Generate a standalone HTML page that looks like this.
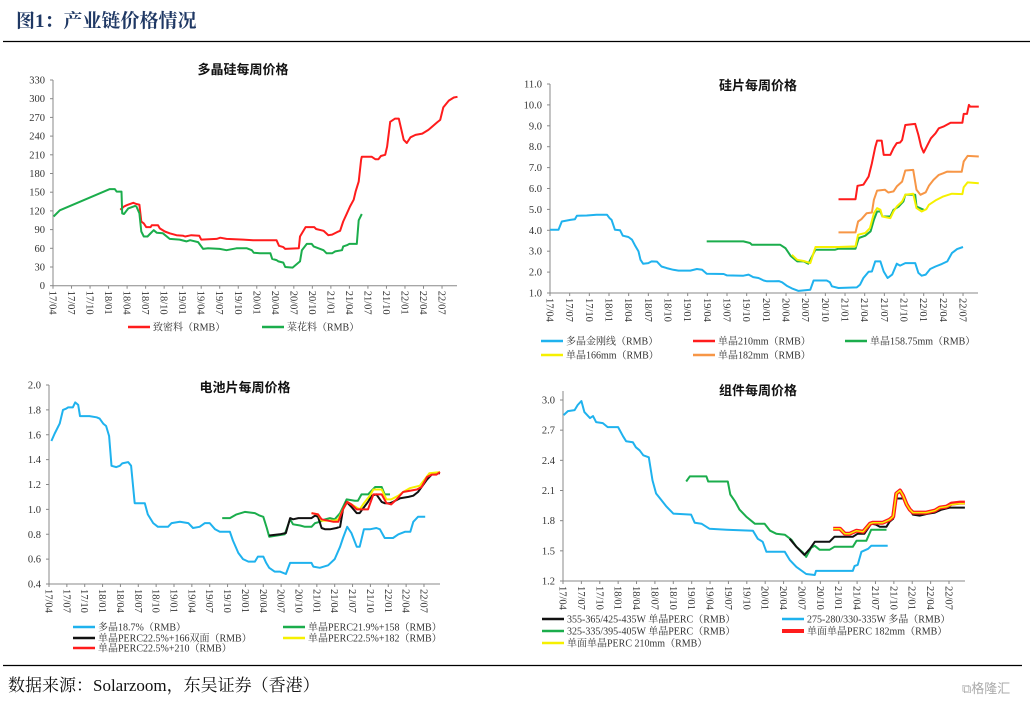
<!DOCTYPE html>
<html><head><meta charset="utf-8">
<style>
html,body{margin:0;padding:0;background:#fff;width:1032px;height:708px;overflow:hidden}
svg{display:block}
.ax{font-family:"Liberation Serif","Noto Serif CJK SC",serif;font-size:10.5px;fill:#333}
.ttl{font-family:"Liberation Sans","Noto Sans CJK SC",sans-serif;font-size:13px;font-weight:bold;fill:#111}
.lg{font-family:"Liberation Serif","Noto Serif CJK SC",serif;font-size:10px;fill:#333}
</style></head><body>
<svg id="root" width="1032" height="708" viewBox="0 0 1032 708" xmlns="http://www.w3.org/2000/svg">
<text x="16" y="27" font-family="'Liberation Serif','Noto Serif CJK SC',serif" font-size="19" font-weight="bold" fill="#1f3864">图1：产业链价格情况</text>
<line x1="3" y1="41.5" x2="1030" y2="41.5" stroke="#000" stroke-width="1.3"/>
<line x1="3" y1="665.5" x2="1022" y2="665.5" stroke="#000" stroke-width="1.3"/>
<text x="8" y="691" font-family="'Liberation Serif','Noto Serif CJK SC',serif" font-size="17" fill="#111">数据来源：Solarzoom，东吴证券（香港）</text>
<text x="962" y="693" font-family="'Liberation Sans','Noto Sans CJK SC',sans-serif" font-size="13" fill="#aaa">⧉格隆汇</text>
</svg>
<script>
// month index: 17/04 = 0
const tickMonths=[0,3,6,9,12,15,18,21,24,27,30,33,36,39,42,45,48,51,54,57,60,63];
const tickLabels=["17/04","17/07","17/10","18/01","18/04","18/07","18/10","19/01","19/04","19/07","19/10","20/01","20/04","20/07","20/10","21/01","21/04","21/07","21/10","22/01","22/04","22/07"];

const p1Dense=[[10.9,122],[11.5,127],[11.9,129],[13,133],[13.5,131],[14,130],[14.3,103],[14.7,100],[15.1,94],[15.8,94],[16,97],[17,97],[17.3,92],[18.1,87],[18.9,84],[20,81],[21.1,80],[21.4,79],[22.4,81],[23.7,80],[24,74],[26.5,75],[27.1,77],[28.1,75],[30.8,74],[32.4,73],[36.2,73],[36.6,64],[37.3,62],[37.6,59],[39.8,60],[40,79],[40.9,94],[42.3,94],[42.6,91],[43.8,88],[44.6,81],[45.2,82],[46,86],[46.5,88],[47,103],[47.6,116],[48.1,127],[48.7,138],[49,151],[49.5,167],[49.9,202],[50,207],[51.6,207],[52.2,203],[52.7,203],[53.1,208],[53.8,210],[54.1,223],[54.6,263],[55.4,268],[56,268],[56.8,234],[57.3,229],[57.9,238],[58.7,242],[59.8,244],[60.8,250],[62.2,262],[62.7,266],[63.2,286],[64.1,297],[64.9,302],[65.5,303]];
const p1Cauli=[[0.1,111],[1.1,121],[9.2,155],[10,155],[10.3,151],[11.1,151],[11.2,116],[11.5,115],[12.2,124],[13.3,128],[13.5,127],[14,116],[14.3,87],[14.7,79],[15.3,79],[15.7,83],[16.3,89],[16.8,85],[17.8,84],[18.9,75],[20.5,74],[21.6,71],[22.2,73],[23.5,70],[24.3,59],[25.1,60],[27,59],[28.1,57],[29.7,60],[31.4,60],[32.2,57],[32.5,53],[33.5,52],[35.2,52],[35.5,43],[36.2,41],[36.5,39],[37.3,37],[37.6,30],[38.8,29],[40,39],[40.3,57],[41.1,67],[41.9,67],[42.2,63],[43,60],[43.8,57],[44.3,52],[45.2,52],[45.7,55],[46.8,57],[47,63],[47.6,65],[48,67],[49.2,67],[49.5,105],[50,115]];

const p2Multi=[[0,4.03],[1.3,4.03],[1.8,4.42],[3.1,4.5],[3.8,4.53],[4.1,4.7],[5.6,4.71],[7.1,4.74],[8.7,4.74],[9.1,4.58],[9.4,4.5],[9.9,4.03],[10.7,4],[11.1,3.74],[11.96,3.68],[12.5,3.55],[13,3.26],[13.5,2.99],[13.8,2.59],[14.2,2.4],[15,2.43],[15.5,2.51],[16.3,2.5],[17,2.27],[17.8,2.19],[18.8,2.11],[19.6,2.07],[21.4,2.07],[22.4,2.15],[23.2,2.11],[23.9,1.92],[26.5,1.91],[27,1.84],[29.5,1.83],[30.3,1.88],[31,1.76],[31.8,1.72],[32.6,1.6],[33.1,1.56],[34.1,1.56],[34.9,1.57],[35.4,1.51],[36.1,1.35],[36.9,1.22],[37.9,1.1],[38.9,1.13],[39.7,1.16],[40.2,1.6],[42.2,1.6],[42.7,1.51],[43,1.32],[44,1.24],[46.8,1.27],[47.3,1.4],[47.8,1.72],[48.6,2.02],[49.1,2.03],[49.6,2.51],[50.4,2.51],[50.9,2.03],[51.5,1.72],[52.2,1.88],[52.9,2.4],[53.4,2.31],[54.2,2.43],[55.7,2.43],[56.2,1.96],[56.7,1.83],[57.3,1.88],[58,2.15],[58.8,2.27],[59.8,2.39],[60.6,2.51],[61.3,2.91],[62.1,3.1],[63,3.2]];
const p2M210=[[44,5.49],[46.6,5.49],[46.9,6.13],[47.8,6.18],[48.6,6.57],[49.1,7.21],[49.6,7.97],[49.9,8.29],[50.6,8.29],[50.9,7.61],[51.9,7.61],[52.4,7.93],[52.9,8.17],[53.4,8.2],[53.7,8.32],[54.2,9.04],[55.7,9.09],[56.2,8.56],[56.6,8.01],[57,7.72],[57.6,8.09],[58.1,8.4],[58.8,8.64],[59.3,8.88],[60,8.96],[61.1,9.15],[62.9,9.15],[63.1,9.57],[63.6,9.57],[63.9,10],[64.1,9.92],[65.4,9.92]];
const p2M182=[[44,3.9],[46.6,3.9],[47,4.42],[47.5,4.53],[48.3,4.82],[49.1,4.85],[49.4,5.46],[49.9,5.9],[51.1,5.94],[51.6,5.81],[52.4,5.86],[52.9,6.1],[53.7,6.33],[54.2,6.86],[55.4,6.89],[55.9,5.94],[56.5,5.7],[57.3,5.82],[57.8,6.13],[58.5,6.41],[59.3,6.65],[60,6.73],[60.6,6.81],[61.6,6.8],[62.8,6.8],[63.1,7.29],[63.7,7.56],[65.4,7.53]];
const p2M166=[[36.9,2.83],[37.7,2.59],[38.7,2.53],[39.7,2.43],[40.5,3.2],[44,3.2],[46.6,3.23],[47,3.79],[48.1,3.87],[48.8,4.1],[49.4,4.82],[49.9,5.06],[50.4,4.98],[50.7,4.66],[51.9,4.58],[52.4,4.9],[52.9,5.14],[53.7,5.38],[54.2,5.7],[55.4,5.75],[55.9,5.06],[56.7,4.9],[57.4,5.01],[57.8,5.22],[58.8,5.43],[60,5.62],[61.3,5.75],[62.9,5.73],[63.1,6.06],[63.7,6.29],[65.4,6.25]];
const p2M158=[[23.9,3.47],[29.5,3.47],[30.5,3.39],[30.8,3.31],[35.1,3.31],[35.9,3.15],[36.7,2.78],[37.7,2.51],[38.7,2.51],[39.4,2.4],[40.5,3.07],[43.5,3.07],[44,3.12],[46.6,3.12],[47.1,3.63],[48.1,3.74],[48.9,3.95],[49.4,4.5],[49.9,4.9],[50.4,4.9],[50.7,4.66],[51.9,4.66],[52.4,4.98],[53.2,5.14],[53.9,5.38],[54.2,5.7],[55.7,5.7],[55.9,5.14],[57,4.98]];

const p3Multi=[[0.4,1.55],[0.95,1.61],[1.8,1.69],[2.35,1.8],[2.9,1.81],[3.2,1.82],[4,1.82],[4.4,1.86],[4.9,1.84],[5.2,1.75],[6.8,1.75],[8,1.74],[8.5,1.73],[9.1,1.69],[9.6,1.67],[10.1,1.59],[10.5,1.35],[11.3,1.34],[11.9,1.35],[12.3,1.37],[13.3,1.38],[13.8,1.35],[14.4,1.05],[15,1.05],[16.1,1.05],[16.6,0.96],[17.5,0.89],[18.3,0.86],[20,0.86],[20.6,0.89],[22,0.9],[23.4,0.89],[24.2,0.85],[25.3,0.86],[26.2,0.89],[27,0.89],[27.9,0.84],[28.7,0.82],[30.4,0.82],[30.9,0.75],[31.8,0.65],[32.6,0.6],[33.5,0.58],[34.6,0.58],[35.1,0.62],[36,0.62],[36.5,0.57],[37,0.53],[37.9,0.5],[38.8,0.5],[39.8,0.48],[40.5,0.57],[42.2,0.57],[44.1,0.57],[44.4,0.54],[45.5,0.53],[46.9,0.55],[48,0.6],[48.9,0.7],[49.4,0.77],[50.1,0.86],[50.8,0.81],[51.7,0.7],[52.2,0.7],[52.9,0.84],[53.9,0.84],[55,0.85],[55.6,0.84],[56.4,0.77],[57.8,0.77],[58.7,0.8],[59.8,0.82],[60.7,0.82],[61.2,0.9],[62,0.94],[63.2,0.94]];
const p3P158=[[29.1,0.93],[30.4,0.93],[31.5,0.96],[32.9,0.98],[34.6,0.97],[35.4,0.95],[36,0.94],[36.6,0.85],[37,0.78],[39.6,0.8],[40.5,0.92],[41,0.88],[42.2,0.87],[43,0.86],[44.1,0.86],[44.7,0.89],[45.5,0.9],[46.4,0.92],[47.2,0.93],[48,0.92],[48.9,0.97],[50,1.08],[51.4,1.07],[51.9,1.07],[52.5,1.12],[53.6,1.12],[54.8,1.18],[55.9,1.18],[56.4,1.12],[57.3,1.12]];
const p3P166=[[37,0.79],[38.8,0.8],[39.8,0.81],[40.5,0.93],[41,0.92],[41.9,0.93],[44.1,0.93],[44.7,0.95],[45.2,0.94],[45.8,0.85],[46.4,0.84],[47.2,0.84],[48.3,0.85],[48.9,0.86],[49.4,1],[50,1.06],[50.8,1.02],[51.7,0.97],[52.2,0.97],[52.8,1.01],[53.6,1.06],[54.2,1.11],[55,1.12],[55.9,1.06],[56.4,1.05],[57.3,1.05],[57.8,1.06],[59,1.09],[60.4,1.1],[61.2,1.11],[62,1.14],[62.9,1.2],[63.5,1.24],[64.3,1.28],[65.1,1.29],[65.7,1.29]];
const p3P182=[[44.1,0.97],[45.2,0.96],[45.8,0.91],[48,0.91],[48.6,0.92],[49.4,1],[50.1,1.06],[52.2,1],[52.9,1.05],[53.9,1.11],[54.5,1.16],[55.9,1.16],[56.7,1.08],[57.5,1.08],[58.7,1.11],[59.5,1.14],[60.6,1.17],[62.3,1.19],[63.1,1.24],[63.9,1.29],[65.7,1.3]];
const p3P210=[[44.1,0.97],[45.2,0.96],[45.8,0.92],[47.8,0.9],[48.6,0.9],[49.4,1],[50.1,1.06],[50.8,1.04],[51.7,1],[53.6,1],[54.5,1.12],[55.9,1.12],[56.7,1.05],[57.5,1.04],[58.4,1.08],[59.5,1.14],[61.8,1.16],[62.6,1.18],[63.5,1.26],[64.3,1.28],[65.1,1.28],[65.7,1.3]];

const p4Multi=[[0.1,2.85],[0.8,2.89],[1.9,2.9],[2.4,2.95],[3,2.99],[3.5,2.88],[4.4,2.82],[4.9,2.84],[5.4,2.78],[6.5,2.77],[7.3,2.73],[9,2.73],[9.8,2.64],[10.3,2.59],[11.4,2.58],[11.9,2.53],[12.5,2.5],[13.1,2.45],[14,2.43],[14.6,2.2],[15.2,2.07],[16,2.01],[16.9,1.94],[18,1.87],[20.9,1.86],[21.5,1.78],[22.6,1.77],[23.9,1.72],[26.7,1.71],[31,1.7],[31.8,1.62],[32.6,1.59],[33.2,1.49],[36.2,1.49],[37,1.41],[38.1,1.34],[39.7,1.27],[41.1,1.26],[41.3,1.3],[47.3,1.3],[47.6,1.35],[48.1,1.36],[48.7,1.49],[49.8,1.52],[50.3,1.55],[53,1.55]];
const p4Perc325=[[20.1,2.19],[20.7,2.24],[23.4,2.24],[23.7,2.19],[26.9,2.19],[27.3,2.06],[28.1,1.99],[28.8,1.91],[29.9,1.84],[31.3,1.77],[32.9,1.77],[33.8,1.7],[34.8,1.67],[36.2,1.66],[37.3,1.61],[38.1,1.54],[39.2,1.48],[39.7,1.44],[40.5,1.53],[41.1,1.55],[41.9,1.51],[43.5,1.51],[44.3,1.54],[47.3,1.54],[47.9,1.6],[49.5,1.6],[50.3,1.71],[52.8,1.71]];
const p4Perc355=[[37,1.62],[38.1,1.54],[39.4,1.46],[40.3,1.52],[41.1,1.59],[42.4,1.59],[43.5,1.59],[44.3,1.64],[47.3,1.64],[48.1,1.67],[49.2,1.67],[50.3,1.77],[51.1,1.76],[51.7,1.74],[52.8,1.74],[53.3,1.79],[53.9,1.82],[54.4,2.02],[55.8,2.02],[56.3,1.94],[57.1,1.86],[58.2,1.85],[59.6,1.87],[60.7,1.88],[61.8,1.91],[63.1,1.93],[65.6,1.93]];
const p4Mono182=[[44.1,1.72],[45.2,1.72],[46,1.67],[46.8,1.67],[47.9,1.7],[49,1.69],[50.1,1.77],[50.6,1.78],[52.2,1.78],[53.3,1.81],[53.9,1.84],[54.4,2.07],[55,2.1],[55.5,2.05],[56.1,1.96],[56.6,1.91],[57.1,1.88],[59.3,1.88],[60.7,1.9],[61.5,1.93],[62.6,1.94],[63.4,1.97],[64.8,1.98],[65.6,1.98]];
const p4Mono210=[[44.1,1.72],[45.2,1.72],[46,1.67],[46.8,1.67],[47.9,1.7],[49,1.69],[50.1,1.77],[50.6,1.78],[52.2,1.78],[53.3,1.81],[53.9,1.84],[54.4,2.07],[55,2.1],[55.5,2.05],[56.1,1.96],[56.6,1.91],[57.1,1.88],[59.3,1.88],[60.7,1.9],[61.5,1.93],[62.6,1.94],[63.4,1.96],[64.8,1.97],[65.6,1.97]];

const p1Ticks=[0,30,60,90,120,150,180,210,240,270,300,330];
const p2Ticks=[1,2,3,4,5,6,7,8,9,10,11];
const p3Ticks=[0.4,0.6,0.8,1.0,1.2,1.4,1.6,1.8,2.0];
const p4Ticks=[1.2,1.5,1.8,2.1,2.4,2.7,3.0];

const NS="http://www.w3.org/2000/svg";
const root=document.getElementById('root');
function mk(tag,attrs,parent){const e=document.createElementNS(NS,tag);for(const k in attrs)e.setAttribute(k,attrs[k]);(parent||root).appendChild(e);return e;}

function panel(cfg){
  const g=mk('g',{});
  
  
  const xs=m=>cfg.x0+m*cfg.ppm;
  const ys=v=>cfg.yBot+(v-cfg.vMin)/(cfg.vMax-cfg.vMin)*(cfg.yTop-cfg.yBot);
  const t=mk('text',{x:cfg.tx,y:cfg.ty,'text-anchor':'middle',class:'ttl'},g);t.textContent=cfg.title;
  
  
  const ya=mk('line',{x1:cfg.x0,y1:cfg.axTop,x2:cfg.x0,y2:cfg.yBot,stroke:'#888','stroke-width':1},g);
  
  
  const xa=mk('line',{x1:cfg.x0,y1:cfg.yBot,x2:cfg.xEnd,y2:cfg.yBot,stroke:'#888','stroke-width':1},g);
  
  
  cfg.ticks.forEach(v=>{
    const y=ys(v);
    mk('line',{x1:cfg.x0-3,y1:y,x2:cfg.x0,y2:y,stroke:'#888'},g);
    const l=mk('text',{x:cfg.x0-8,y:y+3.5,'text-anchor':'end',class:'ax'},g);
    l.textContent=v.toFixed(cfg.dec);
    
    
  });
  tickMonths.forEach((m,i)=>{
    const x=xs(m);
    mk('line',{x1:x,y1:cfg.yBot,x2:x,y2:cfg.yBot+3,stroke:'#888'},g);
    const l=mk('text',{x:0,y:0,class:'ax',transform:`translate(${x-3.5},${cfg.yBot+5}) rotate(90)`},g);
    l.textContent=tickLabels[i];
    
    
  });
  cfg.series.forEach(s=>{
    const pts=s.data.map(p=>xs(p[0]).toFixed(1)+','+ys(p[1]).toFixed(1)).join(' ');
    const pl=mk('polyline',{points:pts,fill:'none',stroke:s.color,'stroke-width':s.w||2,'stroke-linejoin':'round'},g);
    
    
  });
  cfg.legend.forEach(L=>{
    const lg=mk('g',{},g);
    
    
    mk('line',{x1:L.x,y1:L.y,x2:L.x+22,y2:L.y,stroke:L.color,'stroke-width':L.w||2.5},lg);
    const tx=mk('text',{x:L.x+25,y:L.y+3.5,class:'lg'},lg);tx.textContent=L.label;
  });
}

const BLUE='#1fb2ee',RED='#ff1c1c',GREEN='#1bad4c',YEL='#f6f000',ORG='#f79646',BLK='#111';

panel({name:'polysilicon-chart',title:'多晶硅每周价格',tx:243,ty:74,x0:53,ppm:6.175,xEnd:457,yBot:285.7,yTop:80,axTop:80,vMin:0,vMax:330,ticks:p1Ticks,dec:0,
  series:[{id:'dense-material-line',data:p1Dense,color:RED},{id:'cauliflower-material-line',data:p1Cauli,color:GREEN}],
  legend:[{x:128,y:327,color:RED,label:'致密料（RMB）'},{x:262,y:327,color:GREEN,label:'菜花料（RMB）'}]});

panel({name:'wafer-chart',title:'硅片每周价格',tx:758,ty:90,x0:550,ppm:6.556,xEnd:978,yBot:293,yTop:84,axTop:84,vMin:1,vMax:11,ticks:p2Ticks,dec:1,
  series:[{id:'multi-wafer-line',data:p2Multi,color:BLUE},{id:'mono-158-line',data:p2M158,color:GREEN},{id:'mono-166-line',data:p2M166,color:YEL},{id:'mono-182-line',data:p2M182,color:ORG},{id:'mono-210-line',data:p2M210,color:RED}],
  legend:[{x:541,y:341,color:BLUE,label:'多晶金刚线（RMB）'},{x:693,y:341,color:RED,label:'单晶210mm（RMB）'},{x:845,y:341,color:GREEN,label:'单晶158.75mm（RMB）'},{x:541,y:355,color:YEL,label:'单晶166mm（RMB）'},{x:693,y:355,color:ORG,label:'单晶182mm（RMB）'}]});

panel({name:'cell-chart',title:'电池片每周价格',tx:245,ty:392,x0:49,ppm:5.952,xEnd:440,yBot:584,yTop:385,axTop:385,vMin:0.4,vMax:2.0,ticks:p3Ticks,dec:1,
  series:[{id:'multi-cell-line',data:p3Multi,color:BLUE},{id:'perc-158-line',data:p3P158,color:GREEN},{id:'perc-166-line',data:p3P166,color:BLK},{id:'perc-182-line',data:p3P182,color:YEL},{id:'perc-210-line',data:p3P210,color:RED}],
  legend:[{x:73,y:627,color:BLUE,label:'多晶18.7%（RMB）'},{x:283,y:627,color:GREEN,label:'单晶PERC21.9%+158（RMB）'},{x:73,y:638,color:BLK,label:'单晶PERC22.5%+166双面（RMB）'},{x:283,y:638,color:YEL,label:'单晶PERC22.5%+182（RMB）'},{x:73,y:648,color:RED,label:'单晶PERC22.5%+210（RMB）'}]});

panel({name:'module-chart',title:'组件每周价格',tx:758,ty:395,x0:563,ppm:6.127,xEnd:965,yBot:581,yTop:400,axTop:391,vMin:1.2,vMax:3.0,ticks:p4Ticks,dec:1,
  series:[{id:'multi-module-line',data:p4Multi,color:BLUE},{id:'perc-325-line',data:p4Perc325,color:GREEN},{id:'perc-355-line',data:p4Perc355,color:BLK},{id:'mono-182-module-line',data:p4Mono182,color:RED,w:4},{id:'mono-210-module-line',data:p4Mono210,color:YEL,w:1.5}],
  legend:[{x:542,y:619,color:BLK,label:'355-365/425-435W 单晶PERC（RMB）'},{x:782,y:619,color:BLUE,label:'275-280/330-335W 多晶（RMB）'},{x:542,y:631,color:GREEN,label:'325-335/395-405W 单晶PERC（RMB）'},{x:782,y:631,color:RED,w:4,label:'单面单晶PERC 182mm（RMB）'},{x:542,y:643,color:YEL,label:'单面单晶PERC 210mm（RMB）'}]});
</script>
</body></html>
